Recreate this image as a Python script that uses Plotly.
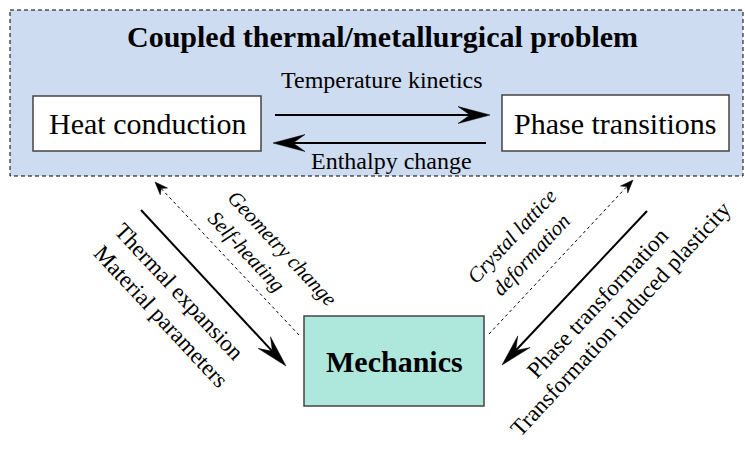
import math
import plotly.graph_objects as go

# ---- diagram content ----
title_text = "Coupled thermal/metallurgical problem"
box_labels = ["Heat conduction", "Phase transitions", "<b>Mechanics</b>"]
box_x0 = [33, 502, 304]
box_x1 = [261, 729, 484]
box_y0 = [96, 95, 316]
box_y1 = [151, 151, 406]
box_fill = ["white", "white", "#aee8dc"]
box_font = [30, 30, 30]

arrow_tail_x = [275, 486, 141, 299, 489, 647]
arrow_tail_y = [115, 143, 210, 335, 334, 211]
arrow_tip_x = [490, 273, 286, 155, 633, 502]
arrow_tip_y = [115, 143, 366, 182, 180, 365]
arrow_dotted = [False, False, False, True, True, False]

label_texts = ["Temperature kinetics", "Enthalpy change",
               "Thermal expansion", "Material parameters",
               "<i>Geometry change</i>", "<i>Self-heating</i>",
               "<i>Crystal lattice</i>", "<i>deformation</i>",
               "Phase transformation", "Transformation induced plasticity"]
label_x = [382, 391, 179, 161, 282, 246, 512, 531, 597, 620]
label_y = [80, 161, 291, 316, 248, 251, 236, 255, 303, 319]
label_angle = [0, 0, 47, 47, 47, 47, -47, -47, -47, -47]
label_size = [24, 24, 23, 23, 21, 21, 21, 21, 23, 23]

FONT = "Liberation Serif"
W, H = 745, 450

fig = go.Figure()
shapes = []
annotations = []

# outer dashed region
shapes.append(dict(type="rect", xref="x", yref="y", x0=10, x1=743, y0=10, y1=176,
                   fillcolor="#cddcf0", line=dict(color="black", width=1, dash="4px,3px"),
                   layer="below"))
annotations.append(dict(x=382, y=36, xref="x", yref="y", text="<b>" + title_text + "</b>",
                        showarrow=False, font=dict(family=FONT, size=30, color="black")))

for i, lab in enumerate(box_labels):
    shapes.append(dict(type="rect", xref="x", yref="y", x0=box_x0[i], x1=box_x1[i],
                       y0=box_y0[i], y1=box_y1[i], fillcolor=box_fill[i],
                       line=dict(color="#444444", width=1.5), layer="below"))
    annotations.append(dict(x=(box_x0[i] + box_x1[i]) / 2, y=(box_y0[i] + box_y1[i]) / 2,
                            xref="x", yref="y", text=lab, showarrow=False,
                            font=dict(family=FONT, size=box_font[i], color="black")))


def add_arrow(x0, y0, x1, y1, dotted):
    dx, dy = x1 - x0, y1 - y0
    L = math.hypot(dx, dy)
    ux, uy = dx / L, dy / L
    px, py = -uy, ux
    if dotted:
        hl, hw, notch, lw = 13, 5, 9, 1
    else:
        hl, hw, notch, lw = 32, 8.5, 20, 2
    nx, ny = x1 - ux * notch, y1 - uy * notch
    shapes.append(dict(type="line", xref="x", yref="y", x0=x0, y0=y0, x1=nx, y1=ny,
                       line=dict(color="black", width=lw, dash="3px,3px" if dotted else "solid")))
    bx, by = x1 - ux * hl, y1 - uy * hl
    pts = [(x1, y1), (bx + px * hw, by + py * hw), (nx, ny), (bx - px * hw, by - py * hw)]
    path = "M " + " L ".join(f"{a:.2f},{b:.2f}" for a, b in pts) + " Z"
    shapes.append(dict(type="path", xref="x", yref="y", path=path,
                       fillcolor="black", line=dict(color="black", width=0.5)))


for i in range(len(arrow_tail_x)):
    add_arrow(arrow_tail_x[i], arrow_tail_y[i], arrow_tip_x[i], arrow_tip_y[i], arrow_dotted[i])

for i, t in enumerate(label_texts):
    annotations.append(dict(x=label_x[i], y=label_y[i], xref="x", yref="y", text=t,
                            showarrow=False, textangle=label_angle[i],
                            font=dict(family=FONT, size=label_size[i], color="black")))

fig.update_layout(
    width=W, height=H, margin=dict(l=0, r=0, t=0, b=0),
    paper_bgcolor="white", plot_bgcolor="white",
    xaxis=dict(range=[0, W], visible=False, fixedrange=True),
    yaxis=dict(range=[H, 0], visible=False, fixedrange=True),
    shapes=shapes, annotations=annotations, showlegend=False,
)
fig.write_html("out.html", config={"displayModeBar": False},
               post_script="document.body.style.margin='0';document.body.style.overflow='hidden';")
